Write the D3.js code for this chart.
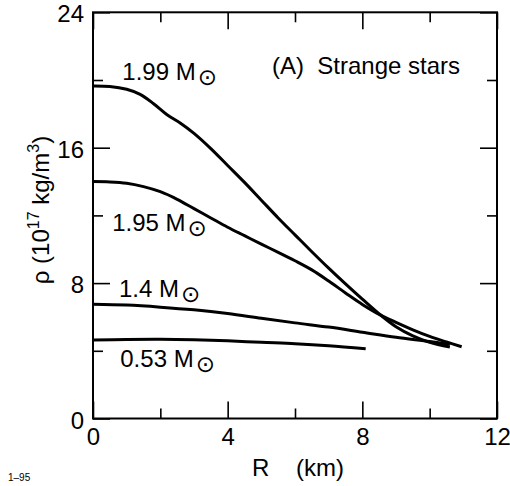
<!DOCTYPE html>
<html><head><meta charset="utf-8">
<script src="https://cdn.jsdelivr.net/npm/d3@7"></script>
<style>
body{margin:0;background:#fff;}
svg{font-family:"Liberation Sans",Arial,sans-serif;}
</style></head>
<body><svg id="c" width="510" height="486"></svg>
<script>
// Data (R in km, rho in 1e17 kg/m^3)
const massLabels = ["1.99", "1.95", "1.4", "0.53"];
const curve199R = [0, 0.5, 1.0, 1.4, 1.8, 2.2, 2.6, 3.0, 3.5, 4.0, 4.5, 5.0, 5.5, 6.0, 6.5, 7.0, 7.5, 8.0, 8.5, 9.0, 9.5, 10.0, 10.6];
const curve199Rho = [19.65, 19.62, 19.45, 19.15, 18.6, 17.95, 17.45, 16.85, 15.95, 14.95, 13.95, 12.9, 11.85, 10.85, 9.85, 8.88, 7.95, 7.05, 6.18, 5.42, 4.88, 4.5, 4.22];
const curve195R = [0, 0.5, 1.0, 1.5, 2.0, 2.5, 3.0, 3.5, 4.0, 4.5, 5.0, 5.5, 6.0, 6.5, 7.0, 7.5, 8.0, 8.5, 9.0, 9.5, 10.0, 10.5, 10.95];
const curve195Rho = [14.0, 13.98, 13.9, 13.7, 13.4, 12.95, 12.4, 11.85, 11.3, 10.8, 10.3, 9.82, 9.32, 8.78, 8.12, 7.42, 6.74, 6.15, 5.68, 5.24, 4.85, 4.52, 4.24];
const curve14R = [0, 1, 2, 3, 4, 5, 6, 7, 8, 9, 10, 10.6];
const curve14Rho = [6.75, 6.7, 6.58, 6.42, 6.2, 5.92, 5.65, 5.4, 5.1, 4.8, 4.55, 4.38];
const curve053R = [0, 1, 2, 3, 4, 5, 6, 7, 8.1];
const curve053Rho = [4.64, 4.67, 4.68, 4.65, 4.59, 4.5, 4.42, 4.3, 4.12];
const xMajorTicks = [0, 4, 8, 12];
const xMinorTicks = [2, 6, 10];
const yMajorTicks = [0, 8, 16, 24];
const yMinorTicks = [4, 12, 20];
// label anchor positions in data units
const labelR = [0.87, 0.57, 0.77, 0.81];
const labelRho = [20.0, 11.1, 7.15, 3.05];

const svg = d3.select("#c");
const x = d3.scaleLinear().domain([0, 12]).range([93, 497]);
const y = d3.scaleLinear().domain([0, 24]).range([418.5, 12.3]);
const FS = 24;

function ax(gen, transform, vals, size, labels, dy) {
  const g = svg.append("g").attr("transform", transform)
    .call(gen.tickValues(vals).tickSize(size).tickPadding(9)
      .tickFormat(labels ? d3.format("d") : ""));
  g.select(".domain").remove();
  g.selectAll("line").attr("stroke", "#000").attr("stroke-width", 1.6);
  g.selectAll("text").attr("font-size", FS).attr("fill", "#000")
    .attr("font-family", "Liberation Sans, Arial, sans-serif");
  if (dy) g.selectAll("text").attr("dy", dy);
  return g;
}
ax(d3.axisBottom(x), `translate(0,${y(0)})`, xMajorTicks, -17, true);
ax(d3.axisBottom(x), `translate(0,${y(0)})`, xMinorTicks, -10, false);
ax(d3.axisTop(x), `translate(0,${y(24)})`, xMajorTicks, -17, false);
ax(d3.axisTop(x), `translate(0,${y(24)})`, xMinorTicks, -10, false);
ax(d3.axisLeft(y), `translate(${x(0)},0)`, yMajorTicks, -17, true, "0.4em");
ax(d3.axisLeft(y), `translate(${x(0)},0)`, yMinorTicks, -10, false);
ax(d3.axisRight(y), `translate(${x(12)},0)`, yMajorTicks, -17, false);
ax(d3.axisRight(y), `translate(${x(12)},0)`, yMinorTicks, -10, false);

svg.append("rect").attr("x", x(0)).attr("y", y(24))
  .attr("width", x(12) - x(0)).attr("height", y(0) - y(24))
  .attr("fill", "none").attr("stroke", "#000").attr("stroke-width", 2);

const curves = [[curve199R, curve199Rho], [curve195R, curve195Rho], [curve14R, curve14Rho], [curve053R, curve053Rho]];
const line = d3.line().x(d => x(d[0])).y(d => y(d[1])).curve(d3.curveCatmullRom.alpha(0.5));
curves.forEach(([rs, ps]) => {
  svg.append("path").datum(rs.map((r, i) => [r, ps[i]]))
    .attr("d", line).attr("fill", "none").attr("stroke", "#000")
    .attr("stroke-width", 3).attr("stroke-linejoin", "round");
});

massLabels.forEach((m, i) => {
  const t = svg.append("text").attr("x", x(labelR[i])).attr("y", y(labelRho[i]))
    .attr("font-size", FS).attr("fill", "#000");
  t.append("tspan").text(m + " M");
  t.append("tspan").attr("font-family", "DejaVu Sans").attr("font-size", 23)
    .attr("dy", 5).attr("dx", 2).text("\u2299");
});

svg.append("text").attr("x", 272).attr("y", 74).attr("font-size", FS)
  .attr("fill", "#000").attr("xml:space", "preserve").text("(A)  Strange stars");

svg.append("text").attr("x", 298).attr("y", 476).attr("text-anchor", "middle")
  .attr("font-size", FS).attr("fill", "#000").attr("xml:space", "preserve").text("R    (km)");

const yl = svg.append("text").attr("transform", "translate(49,210) rotate(-90)")
  .attr("text-anchor", "middle").attr("font-size", FS).attr("fill", "#000");
yl.append("tspan").text("\u03c1 (10");
yl.append("tspan").attr("font-size", 16).attr("dy", -10).text("17");
yl.append("tspan").attr("dy", 10).text(" kg/m");
yl.append("tspan").attr("font-size", 16).attr("dy", -10).text("3");
yl.append("tspan").attr("dy", 10).text(")");

svg.append("text").attr("x", 8).attr("y", 481).attr("font-size", 10)
  .attr("fill", "#000").text("1\u201395");
</script></body></html>
